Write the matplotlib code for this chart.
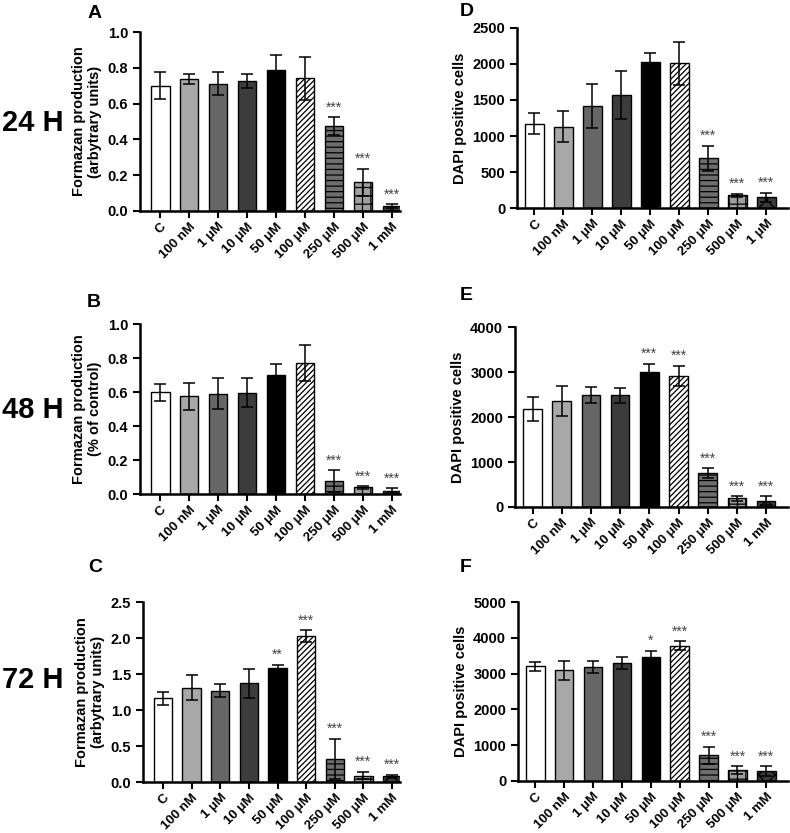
import matplotlib.pyplot as plt
import numpy as np

plt.rcParams['font.family'] = ['Liberation Sans', 'DejaVu Sans']
plt.rcParams['font.weight'] = 'bold'
plt.rcParams['hatch.linewidth'] = 0.9

labels = ['C', '100 nM', '1 \u03bcM', '10 \u03bcM', '50 \u03bcM', '100 \u03bcM', '250 \u03bcM', '500 \u03bcM', '1 mM']
labels_d = labels[:-1] + ['1 \u03bcM']

# 24 h
mtt24 = [0.70, 0.738, 0.712, 0.725, 0.786, 0.742, 0.474, 0.16, 0.026]
mtt24_err = [0.075, 0.03, 0.065, 0.04, 0.085, 0.12, 0.05, 0.075, 0.011]
dapi24 = [1170, 1130, 1416, 1574, 2030, 2007, 690, 178, 150]
dapi24_err = [145, 220, 305, 333, 120, 300, 175, 22, 60]
# 48 h
mtt48 = [0.60, 0.575, 0.59, 0.595, 0.70, 0.77, 0.075, 0.04, 0.02]
mtt48_err = [0.05, 0.08, 0.09, 0.085, 0.065, 0.105, 0.065, 0.008, 0.015]
dapi48 = [2180, 2360, 2490, 2480, 3000, 2920, 750, 190, 140]
dapi48_err = [270, 330, 170, 170, 180, 220, 110, 50, 100]
# 72 h
mtt72 = [1.16, 1.31, 1.27, 1.37, 1.58, 2.03, 0.32, 0.09, 0.08]
mtt72_err = [0.09, 0.17, 0.09, 0.20, 0.05, 0.08, 0.28, 0.05, 0.02]
dapi72 = [3200, 3090, 3180, 3300, 3460, 3780, 720, 300, 280]
dapi72_err = [120, 270, 170, 170, 180, 120, 240, 110, 130]

stars_a = ['', '', '', '', '', '', '***', '***', '***']
stars_d = stars_a
stars_b = stars_a
stars_e = ['', '', '', '', '***', '***', '***', '***', '***']
stars_c = ['', '', '', '', '**', '***', '***', '***', '***']
stars_f = ['', '', '', '', '*', '***', '***', '***', '***']

colors = ['white', '#a8a8a8', '#666666', '#3c3c3c', 'black', 'white', '#6e6e6e', '#a0a0a0', '#3c3c3c']
hatches = [None, None, None, None, None, '//////', '---', '++', 'xx']

W, H = 790, 833
fig = plt.figure(figsize=(W / 100, H / 100), dpi=100)


def panel(px, letter, letter_xy, vals, errs, stars, ylim, step, ylabel, fmt, ticklabels, xlim):
    l, r, t, b = px
    ax = fig.add_axes([l / W, 1 - b / H, (r - l) / W, (b - t) / H])
    x = np.arange(len(vals))
    ax.bar(x, vals, width=0.64, color=colors, edgecolor='black', linewidth=1.0,
           hatch=hatches, zorder=2)
    ax.errorbar(x, vals, yerr=errs, fmt='none', ecolor='black', elinewidth=1.1,
                capsize=4, capthick=1.1, zorder=3)
    for xi, v, e, s in zip(x, vals, errs, stars):
        if s:
            ax.text(xi, v + e + ylim * 0.015, s, ha='center', va='bottom',
                    fontsize=10, fontweight='normal', color='#444444')
    ax.set_ylim(0, ylim)
    ax.set_xlim(*xlim)
    ax.set_yticks(np.arange(0, ylim + step / 2, step))
    ax.yaxis.set_major_formatter(plt.FormatStrFormatter(fmt))
    ax.set_xticks(x)
    ax.set_xticklabels(ticklabels, rotation=45, ha='right', rotation_mode='anchor')
    ax.tick_params(axis='both', width=1.5, length=5, direction='out')
    ax.tick_params(axis='y', labelsize=10.5)
    ax.tick_params(axis='x', labelsize=9.5, pad=2)
    for side in ['top', 'right']:
        ax.spines[side].set_visible(False)
    for side in ['left', 'bottom']:
        ax.spines[side].set_linewidth(1.8)
    ax.set_ylabel(ylabel, fontsize=10.5, fontweight='bold', labelpad=4)
    fig.text(letter_xy[0] / W, 1 - letter_xy[1] / H, letter, fontsize=14,
             fontweight='bold', ha='left', va='center')
    return ax


panel((140, 400, 32, 211), 'A', (88, 13), mtt24, mtt24_err, stars_a, 1.0, 0.2,
      'Formazan production\n(arbytrary units)', '%.1f', labels, (-0.7, 8.28))
panel((517, 788, 28, 208), 'D', (460, 12), dapi24, dapi24_err, stars_d, 2500, 500,
      'DAPI positive cells', '%d', labels_d, (-0.6, 8.75))
panel((140, 400, 324, 494), 'B', (87, 302), mtt48, mtt48_err, stars_b, 1.0, 0.2,
      'Formazan production\n(% of control)', '%.1f', labels, (-0.7, 8.28))
panel((515, 788, 327, 507), 'E', (460, 295), dapi48, dapi48_err, stars_e, 4000, 1000,
      'DAPI positive cells', '%d', labels, (-0.6, 8.75))
panel((143, 400, 602, 782), 'C', (88, 568), mtt72, mtt72_err, stars_c, 2.5, 0.5,
      'Formazan production\n(arbytrary units)', '%.1f', labels, (-0.7, 8.28))
panel((518, 788, 602, 781), 'F', (460, 568), dapi72, dapi72_err, stars_f, 5000, 1000,
      'DAPI positive cells', '%d', labels, (-0.6, 8.75))

for txt, yp in [('24 H', 123), ('48 H', 410), ('72 H', 680)]:
    fig.text(2 / W, 1 - yp / H, txt, fontsize=21, fontweight='bold', ha='left', va='center')

fig.savefig('out.png', dpi=100)
